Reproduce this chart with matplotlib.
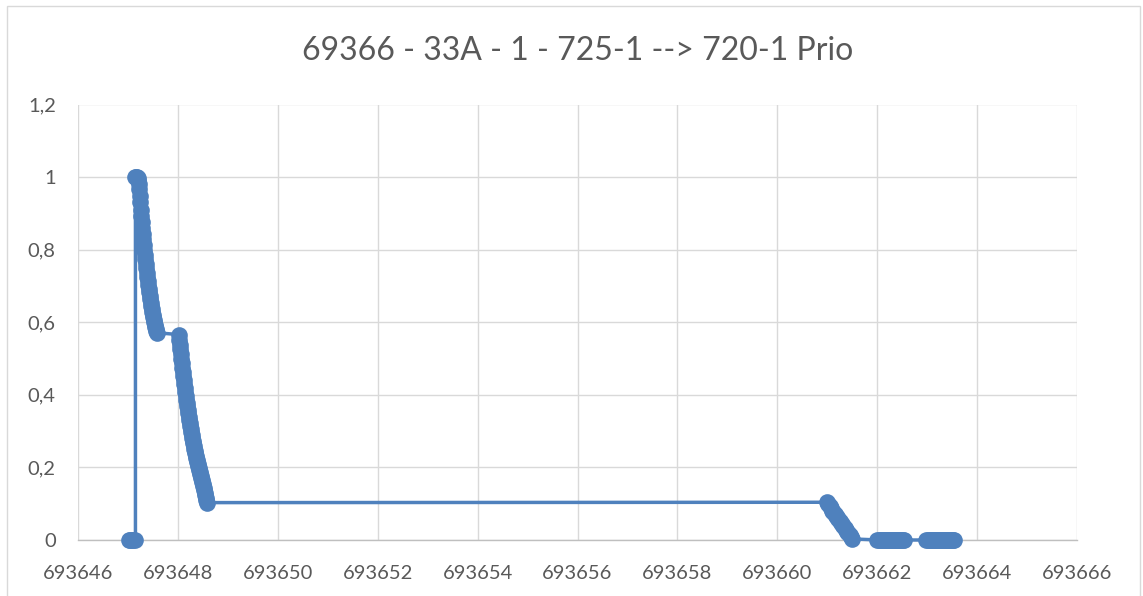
import matplotlib
matplotlib.use("Agg")
import matplotlib.pyplot as plt
from matplotlib.ticker import MultipleLocator, FuncFormatter
from matplotlib.patches import Rectangle

TITLE = "69366 - 33A - 1 - 725-1 --> 720-1 Prio"

# Phase 1: idle at zero before the start
start_x = [693647.02, 693647.05, 693647.08, 693647.11, 693647.15]
start_y = [0.0, 0.0, 0.0, 0.0, 0.0]

# Phase 2: first decay from full level
drop1_x = [693647.15, 693647.17, 693647.19, 693647.20, 693647.21, 693647.22,
           693647.23, 693647.24, 693647.25, 693647.26, 693647.27, 693647.28,
           693647.29, 693647.30, 693647.31, 693647.32, 693647.33, 693647.34,
           693647.35, 693647.36, 693647.37, 693647.38, 693647.39, 693647.40,
           693647.41, 693647.42, 693647.43, 693647.44, 693647.45, 693647.46,
           693647.47, 693647.48, 693647.49, 693647.50, 693647.51, 693647.52,
           693647.53, 693647.54, 693647.55, 693647.56, 693647.57, 693647.58]
drop1_y = [1.000, 1.000, 1.000, 0.998, 0.993, 0.982, 0.967, 0.949, 0.930,
           0.910, 0.893, 0.876, 0.860, 0.844, 0.829, 0.814, 0.800, 0.786,
           0.773, 0.761, 0.749, 0.737, 0.725, 0.714, 0.703, 0.692, 0.682,
           0.673, 0.663, 0.654, 0.645, 0.637, 0.629, 0.621, 0.614, 0.607,
           0.600, 0.593, 0.587, 0.582, 0.576, 0.571]

# Phase 3: second decay
drop2_x = [693648.02, 693648.03, 693648.04, 693648.05, 693648.06, 693648.07,
           693648.08, 693648.09, 693648.10, 693648.11, 693648.12, 693648.13,
           693648.14, 693648.15, 693648.16, 693648.17, 693648.18, 693648.19,
           693648.20, 693648.21, 693648.22, 693648.23, 693648.24, 693648.25,
           693648.26, 693648.27, 693648.28, 693648.29, 693648.30, 693648.31,
           693648.32, 693648.33, 693648.34, 693648.35, 693648.36, 693648.37,
           693648.38, 693648.39, 693648.40, 693648.41, 693648.42, 693648.43,
           693648.44, 693648.45, 693648.46, 693648.47, 693648.48, 693648.49,
           693648.50, 693648.51, 693648.52, 693648.53, 693648.54, 693648.55,
           693648.56, 693648.57, 693648.58]
drop2_y = [0.566, 0.552, 0.538, 0.525, 0.513, 0.500, 0.488, 0.475, 0.463,
           0.452, 0.441, 0.430, 0.419, 0.408, 0.397, 0.387, 0.378, 0.368,
           0.359, 0.349, 0.339, 0.331, 0.323, 0.314, 0.306, 0.298, 0.290,
           0.281, 0.273, 0.266, 0.259, 0.252, 0.246, 0.239, 0.232, 0.226,
           0.221, 0.215, 0.210, 0.204, 0.199, 0.193, 0.188, 0.182, 0.177,
           0.171, 0.166, 0.160, 0.154, 0.149, 0.143, 0.137, 0.130, 0.123,
           0.116, 0.110, 0.103]

# Phase 4: final decay to zero
drop3_x = [693661.000, 693661.025, 693661.050, 693661.075, 693661.100,
           693661.125, 693661.150, 693661.175, 693661.200, 693661.225,
           693661.250, 693661.275, 693661.300, 693661.325, 693661.350,
           693661.375, 693661.400, 693661.425, 693661.450, 693661.475,
           693661.500]
drop3_y = [0.104, 0.099, 0.094, 0.087, 0.081, 0.076, 0.072, 0.067, 0.062,
           0.057, 0.052, 0.047, 0.043, 0.038, 0.033, 0.028, 0.023, 0.018,
           0.014, 0.008, 0.003]

# Phase 5: two trailing runs at zero
tail1_x = [693662.00, 693662.03, 693662.06, 693662.09, 693662.12, 693662.15,
           693662.18, 693662.21, 693662.24, 693662.27, 693662.30, 693662.33,
           693662.36, 693662.39, 693662.42, 693662.45, 693662.48, 693662.51,
           693662.53]
tail1_y = [0.0] * len(tail1_x)
tail2_x = [693662.98, 693663.01, 693663.04, 693663.07, 693663.10, 693663.13,
           693663.16, 693663.19, 693663.22, 693663.25, 693663.28, 693663.31,
           693663.34, 693663.37, 693663.40, 693663.43, 693663.46, 693663.49,
           693663.52, 693663.54]
tail2_y = [0.0] * len(tail2_x)

x_values = start_x + drop1_x + drop2_x + drop3_x + tail1_x + tail2_x
y_values = start_y + drop1_y + drop2_y + drop3_y + tail1_y + tail2_y

X_MIN, X_MAX, X_STEP = 693646, 693666, 2
Y_MIN, Y_MAX, Y_STEP = 0.0, 1.2, 0.2

BLUE = "#4F81BD"
GRID = "#D9D9D9"
TEXT = "#595959"
FONT = ["Lato", "DejaVu Sans"]

W, H = 1143, 596
fig = plt.figure(figsize=(W / 100, H / 100), dpi=100)
fig.patch.set_facecolor("white")

# chart frame
fig.patches.append(Rectangle((7 / W, -0.05), (1140 - 7) / W, 1.05 - 6 / H,
                             transform=fig.transFigure, fill=False,
                             edgecolor=GRID, linewidth=1.0))

left, right, top, bottom = 78 / W, 1077 / W, 1 - 104.5 / H, 1 - 540 / H
ax = fig.add_axes([left, bottom, right - left, top - bottom])

ax.plot(x_values, y_values, color=BLUE, linewidth=2.5, marker="o",
        markersize=12, markeredgewidth=0, solid_capstyle="round",
        solid_joinstyle="round", zorder=3, clip_on=False)

ax.set_xlim(X_MIN, X_MAX)
ax.set_ylim(Y_MIN, Y_MAX)
ax.xaxis.set_major_locator(MultipleLocator(X_STEP))
ax.yaxis.set_major_locator(MultipleLocator(Y_STEP))
ax.xaxis.set_major_formatter(FuncFormatter(lambda v, p: f"{v:.0f}"))
ax.yaxis.set_major_formatter(
    FuncFormatter(lambda v, p: f"{v:.1f}".rstrip("0").rstrip(".").replace(".", ",")))

ax.grid(True, color=GRID, linewidth=1.0)
ax.set_axisbelow(True)
for side in ("top", "right", "left"):
    ax.spines[side].set_visible(False)
ax.spines["bottom"].set_color("#BFBFBF")
ax.spines["bottom"].set_linewidth(1.0)
ax.tick_params(length=0, colors=TEXT, labelsize=14.5)
ax.tick_params(axis="x", pad=18)
ax.tick_params(axis="y", pad=16)
for lab in ax.get_xticklabels() + ax.get_yticklabels():
    lab.set_family(FONT)

fig.text((78 + 1077) / 2 / W, 1 - 51 / H, TITLE, ha="center", va="center",
         color=TEXT, fontsize=23, family=FONT)

fig.savefig("out.png", dpi=100)
